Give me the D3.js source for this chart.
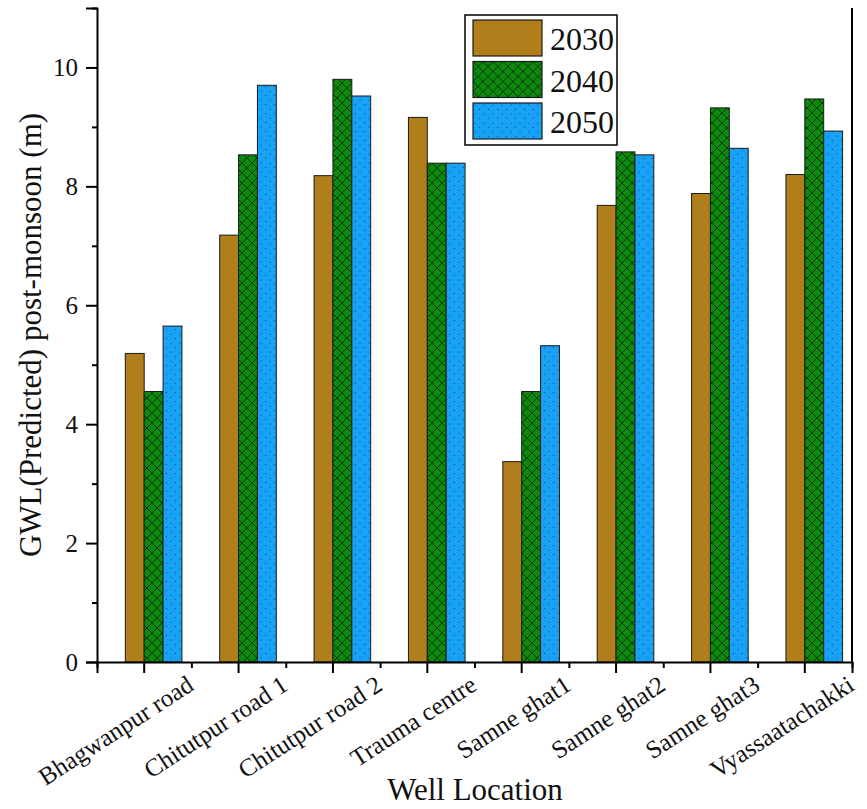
<!DOCTYPE html>
<html>
<head>
<meta charset="utf-8">
<script src="https://cdn.jsdelivr.net/npm/d3@7"></script>
</head>
<body style="margin:0">
<svg class="chart" width="867" height="809"></svg>
<script>
var locations = ["Bhagwanpur road", "Chitutpur road 1", "Chitutpur road 2", "Trauma centre",
                 "Samne ghat1", "Samne ghat2", "Samne ghat3", "Vyassaatachakki"];
var years = ["2030", "2040", "2050"];
var gwl2030 = [5.19, 7.18, 8.18, 9.16, 3.37, 7.68, 7.88, 8.20];
var gwl2040 = [4.55, 8.53, 9.80, 8.39, 4.55, 8.58, 9.32, 9.47];
var gwl2050 = [5.65, 9.70, 9.52, 8.39, 5.32, 8.53, 8.64, 8.93];
var yMajorTicks = [0, 2, 4, 6, 8, 10];
var yMinorTicks = [1, 3, 5, 7, 9, 11];

var margin = {top: 8, bottom: 147, right: 15, left: 97},
    width = 867 - margin.left - margin.right,
    height = 809 - margin.top - margin.bottom;

var root = d3.select(".chart");
var defs = root.append("defs");

// crosshatch for 2040
var hatch = defs.append("pattern")
    .attr("id", "hatch")
    .attr("patternUnits", "userSpaceOnUse")
    .attr("width", 10).attr("height", 10);
hatch.append("rect").attr("width", 10).attr("height", 10).attr("fill", "#0b8a0b");
hatch.append("path")
    .attr("d", "M0,0L10,10M10,0L0,10M-1,9L1,11M9,-1L11,1")
    .attr("stroke", "#102010").attr("stroke-width", 0.8);

// dots for 2050
var dots = defs.append("pattern")
    .attr("id", "dots")
    .attr("patternUnits", "userSpaceOnUse")
    .attr("width", 9).attr("height", 9);
dots.append("rect").attr("width", 9).attr("height", 9).attr("fill", "#17a2f6");
dots.append("circle").attr("cx", 2).attr("cy", 2).attr("r", 0.6).attr("fill", "#1b3566");
dots.append("circle").attr("cx", 6.5).attr("cy", 6.5).attr("r", 0.6).attr("fill", "#1b3566");

var fills = ["#b07f1c", "url(#hatch)", "url(#dots)"];
var series = [gwl2030, gwl2040, gwl2050];

var svg = root.append("g")
    .attr("transform", "translate(" + margin.left + "," + margin.top + ")");

var x = d3.scaleBand().domain(locations).range([0, width]).padding(0);
var xEdges = d3.scaleLinear().domain([0, locations.length]).range([0, width]);
var y = d3.scaleLinear().domain([0, 11]).range([height, 0]);
var bw = x.bandwidth() * 0.2;

function serifText(sel, size) {
    return sel.style("font-family", "'Liberation Serif'")
        .attr("font-size", size)
        .attr("fill", "#111");
}

// bars
series.forEach(function(vals, s) {
    svg.append("g")
        .selectAll("rect")
        .data(vals)
        .enter().append("rect")
        .attr("x", function(d, i) { return x(locations[i]) + x.bandwidth() / 2 + (s - 1) * bw; })
        .attr("y", function(d) { return y(d); })
        .attr("width", bw)
        .attr("height", function(d) { return y(0) - y(d); })
        .attr("fill", fills[s])
        .attr("stroke", "#1a1a1a")
        .attr("stroke-width", 1);
});

// y axis
var yAxis = svg.append("g")
    .call(d3.axisLeft(y).tickValues(yMajorTicks).tickSize(11).tickPadding(8));
yAxis.attr("font-family", null).attr("font-size", null);
serifText(yAxis.selectAll("text"), 25);
svg.append("g")
    .call(d3.axisLeft(y).tickValues(yMinorTicks).tickSize(5).tickFormat(""))
    .select(".domain").remove();

// x axis
svg.append("g")
    .attr("transform", "translate(0," + height + ")")
    .call(d3.axisBottom(x).tickSize(11).tickFormat(""));
svg.append("g")
    .attr("transform", "translate(0," + height + ")")
    .call(d3.axisBottom(xEdges).tickValues(d3.range(0, locations.length + 1)).tickSize(6).tickFormat(""))
    .select(".domain").remove();

svg.selectAll(".domain").attr("stroke", "#000").attr("stroke-width", 2);
svg.selectAll(".tick line").attr("stroke", "#000").attr("stroke-width", 2);

// right frame line
svg.append("line")
    .attr("x1", width).attr("x2", width)
    .attr("y1", 0).attr("y2", height)
    .attr("stroke", "#000").attr("stroke-width", 2);

// rotated category labels
serifText(svg.append("g")
    .selectAll("text")
    .data(locations)
    .enter().append("text")
    .attr("transform", function(d) {
        return "translate(" + (x(d) + x.bandwidth() / 2 + 51) + "," + (height + 27) + ") rotate(-33)";
    })
    .attr("text-anchor", "end")
    .text(function(d) { return d; }), 25);

// axis titles
serifText(svg.append("text")
    .attr("x", 378)
    .attr("y", height + 138)
    .attr("text-anchor", "middle")
    .text("Well Location"), 31);

serifText(svg.append("text")
    .attr("transform", "translate(" + (-56) + "," + (y(5.5)) + ") rotate(-90)")
    .attr("text-anchor", "middle")
    .text("GWL(Predicted) post-monsoon (m)"), 31);

// legend
var legend = root.append("g").attr("transform", "translate(465,15)");
legend.append("rect")
    .attr("width", 152).attr("height", 130)
    .attr("fill", "#fff").attr("stroke", "#000").attr("stroke-width", 1.5);
var item = legend.selectAll(".item")
    .data(years)
    .enter().append("g")
    .attr("transform", function(d, i) { return "translate(8," + (5 + i * 41.5) + ")"; });
item.append("rect")
    .attr("width", 69).attr("height", 36)
    .attr("fill", function(d, i) { return fills[i]; })
    .attr("stroke", "#1a1a1a").attr("stroke-width", 1.2);
serifText(item.append("text")
    .attr("x", 77).attr("y", 30)
    .text(function(d) { return d; }), 32);
</script>
</body>
</html>
